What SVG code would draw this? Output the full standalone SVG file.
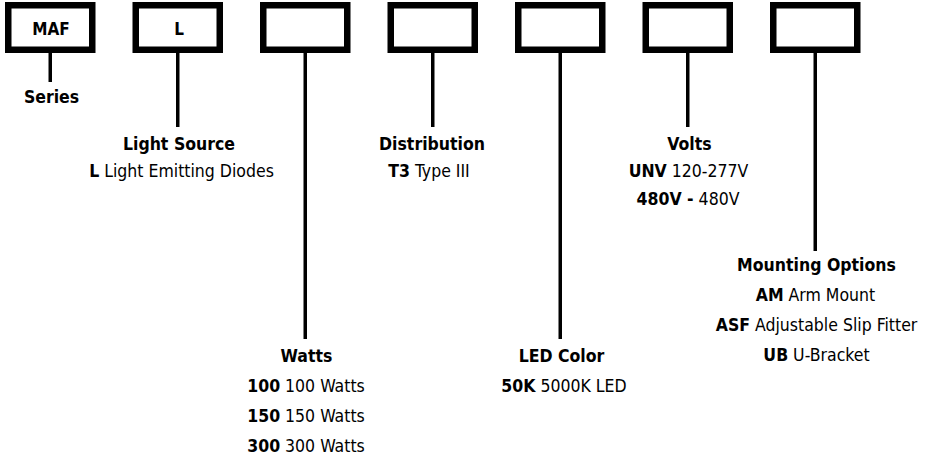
<svg xmlns="http://www.w3.org/2000/svg" width="935" height="459" viewBox="0 0 935 459">
<style>
.box{fill:#fff;stroke:#000;stroke-width:6.5}
.con{stroke:#000;stroke-width:3.5;fill:none}
text{font-family:"Liberation Sans Narrow","DejaVu Sans Condensed","Liberation Sans",sans-serif;font-size:17.5px;fill:#000;text-anchor:middle}
.b{font-weight:bold}
.code{font-size:17px;font-weight:bold}
</style>
<rect width="935" height="459" fill="#fff"/>
<g id="connectors">
<line class="con" x1="50.25" y1="53" x2="50.25" y2="82"/>
<line class="con" x1="177.75" y1="53" x2="177.75" y2="127"/>
<line class="con" x1="305.25" y1="53" x2="305.25" y2="339"/>
<line class="con" x1="432.75" y1="53" x2="432.75" y2="127"/>
<line class="con" x1="560.25" y1="53" x2="560.25" y2="339"/>
<line class="con" x1="687.75" y1="53" x2="687.75" y2="127"/>
<line class="con" x1="815.25" y1="53" x2="815.25" y2="251"/>
</g>
<g id="box-series"><rect class="box" x="8.25" y="5.25" width="84" height="44.5"/><text class="code" x="51" y="35">MAF</text></g>
<g id="box-source"><rect class="box" x="135.75" y="5.25" width="84" height="44.5"/><text class="code" x="179" y="35">L</text></g>
<g id="box-watts"><rect class="box" x="263.25" y="5.25" width="84" height="44.5"/></g>
<g id="box-distribution"><rect class="box" x="390.75" y="5.25" width="84" height="44.5"/></g>
<g id="box-color"><rect class="box" x="518.25" y="5.25" width="84" height="44.5"/></g>
<g id="box-volts"><rect class="box" x="645.75" y="5.25" width="84" height="44.5"/></g>
<g id="box-mounting"><rect class="box" x="773.25" y="5.25" width="84" height="44.5"/></g>

<g id="label-series"><text class="b" x="51.5" y="103">Series</text></g>
<g id="label-source">
<text class="b" x="179" y="150">Light Source</text>
<text x="181.5" y="177"><tspan class="b">L</tspan> Light Emitting Diodes</text>
</g>
<g id="label-distribution">
<text class="b" x="432" y="150">Distribution</text>
<text x="429" y="177"><tspan class="b">T3</tspan> Type III</text>
</g>
<g id="label-volts">
<text class="b" x="689.5" y="150">Volts</text>
<text x="688.5" y="177"><tspan class="b">UNV</tspan> 120-277V</text>
<text x="688" y="205"><tspan class="b">480V -</tspan> 480V</text>
</g>
<g id="label-watts">
<text class="b" x="306.5" y="362">Watts</text>
<text x="306" y="392"><tspan class="b">100</tspan> 100 Watts</text>
<text x="306" y="422"><tspan class="b">150</tspan> 150 Watts</text>
<text x="306" y="452"><tspan class="b">300</tspan> 300 Watts</text>
</g>
<g id="label-color">
<text class="b" x="561.5" y="362">LED Color</text>
<text x="564" y="392"><tspan class="b">50K</tspan> 5000K LED</text>
</g>
<g id="label-mounting">
<text class="b" x="816.5" y="271">Mounting Options</text>
<text x="815.5" y="301"><tspan class="b">AM</tspan> Arm Mount</text>
<text x="816.5" y="331"><tspan class="b">ASF</tspan> Adjustable Slip Fitter</text>
<text x="816.5" y="361"><tspan class="b">UB</tspan> U-Bracket</text>
</g>
</svg>
